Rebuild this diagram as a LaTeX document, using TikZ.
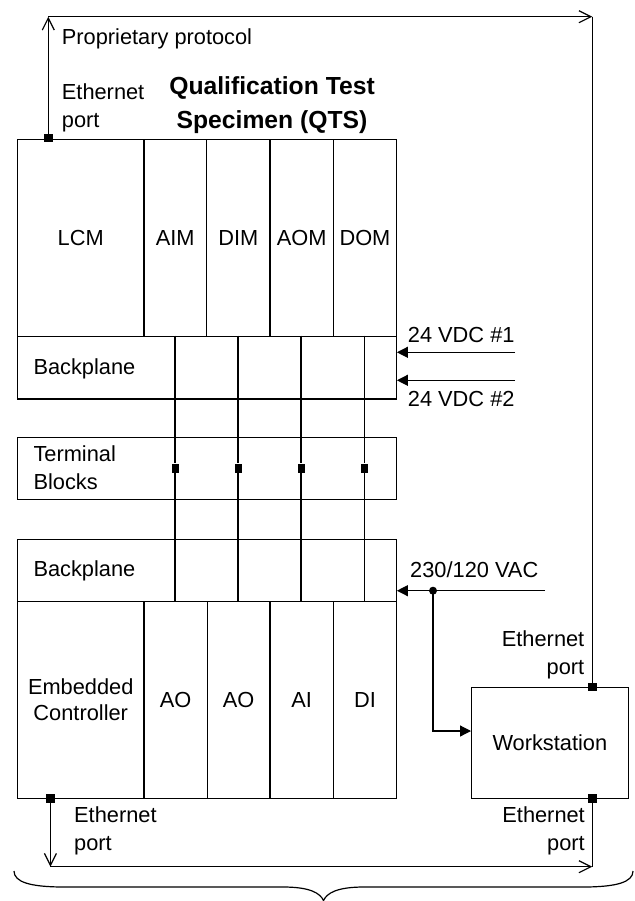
\documentclass[tikz,border=0pt]{standalone}
\usepackage{fontspec}
\setmainfont{Liberation Sans}
\usetikzlibrary{arrows.meta}
\newcommand{\lines}[2]{\begin{tabular}[t]{@{}#1@{}}#2\end{tabular}}
\begin{document}
\begin{tikzpicture}[x=1pt,y=-1pt,
  ln/.style={line width=1.2pt},
  box/.style={draw,line width=1.2pt,rectangle,inner sep=0pt,anchor=north west,
              font=\fontsize{21.8}{26}\selectfont},
  txt/.style={inner sep=0pt,font=\fontsize{21.8}{28}\selectfont},
  ttl/.style={inner sep=0pt,font=\bfseries\fontsize{24.7}{33.3}\selectfont},
  port/.style={fill=black,inner sep=0pt,minimum size=8.5pt},
  dotn/.style={circle,fill=black,inner sep=0pt,minimum size=8pt},
  openarr/.style={-{Straight Barb[length=12pt,width=12pt,line width=1.2pt]}},
  fillarr/.style={-{Triangle[length=11pt,width=11pt]}},
]
\useasboundingbox (0,0) rectangle (634,901);

% ---- QTS top module row
\node[box,minimum width=126.3pt,minimum height=196.4pt] (lcm) at (17,139.3) {LCM};
\node[box,minimum width=62.7pt,minimum height=196.4pt] (aim) at (143.3,139.3) {AIM};
\node[box,minimum width=63.3pt,minimum height=196.4pt] (dim) at (206,139.3) {DIM};
\node[box,minimum width=63.7pt,minimum height=196.4pt] (aom) at (269.3,139.3) {AOM};
\node[box,minimum width=62.7pt,minimum height=196.4pt] (dom) at (333,139.3) {DOM};

% ---- backplanes and terminal blocks
\node[box,minimum width=378.7pt,minimum height=62.6pt] (bp1) at (17,335.7) {};
\node[box,minimum width=378.7pt,minimum height=62.3pt] (tb) at (17,436.7) {};
\node[box,minimum width=378.7pt,minimum height=62pt] (bp2) at (17,539) {};
\node[txt,anchor=base west] (bp1t) at (33.3,374.3) {Backplane};
\node[txt,anchor=base west] (tbt) at (33.3,461.7) {\lines{l}{Terminal\\Blocks}};
\node[txt,anchor=base west] (bp2t) at (33.3,576.7) {Backplane};

% ---- embedded controller row
\node[box,minimum width=126.3pt,minimum height=196.5pt,align=center] (ec) at (17,601) {Embedded\\Controller};
\node[box,minimum width=63.4pt,minimum height=196.5pt] (ao1) at (143.3,601) {AO};
\node[box,minimum width=62.6pt,minimum height=196.5pt] (ao2) at (206.7,601) {AO};
\node[box,minimum width=63.7pt,minimum height=196.5pt] (ai) at (269.3,601) {AI};
\node[box,minimum width=62.7pt,minimum height=196.5pt] (di) at (333,601) {DI};

% ---- workstation
\node[box,minimum width=156.5pt,minimum height=111.3pt] (ws) at (471,686.7) {Workstation};

% ---- I/O wiring through backplanes and terminal blocks
\foreach \i/\x in {1/175,2/238,3/301,4/364.3}{
  \coordinate (vt\i) at (\x,335.7);
  \coordinate (vb\i) at (\x,601);
  \node[port,minimum width=7pt,minimum height=9pt] (sq\i) at (\x,468) {};
  \draw[ln] (vt\i) -- (sq\i) -- (vb\i);
}

% ---- power feeds
\coordinate (dc1) at (515,352.3);
\coordinate (dc2) at (515,380.3);
\draw[ln,fillarr] (dc1) -- (bp1.east |- dc1);
\draw[ln,fillarr] (dc2) -- (bp1.east |- dc2);
\node[txt,anchor=base west] (dc1t) at (407.7,342.7) {24 VDC \#1};
\node[txt,anchor=base west] (dc2t) at (407.7,406) {24 VDC \#2};

\coordinate (vac) at (545,590.7);
\coordinate (wsin) at (471,731);
\draw[ln,fillarr] (vac) -- (bp2.east |- vac);
\node[dotn] (junc) at (433,590.7) {};
\draw[ln,fillarr] (junc.center) |- (wsin);
\node[txt,anchor=base west] (vact) at (410,577.3) {230/120 VAC};

% ---- ethernet ports
\node[port] (lcmport) at (48.3,138) {};
\node[port] (ecport) at (50.4,798.5) {};
\node[port] (wsport1) at (592.3,687) {};
\node[port] (wsport2) at (592.3,798.5) {};
\coordinate (tl) at (48.3,16.7);
\coordinate (tr) at (592.3,16.7);
\coordinate (bl) at (50.4,866.7);
\coordinate (br) at (592.3,866.7);

\draw[ln,openarr] (lcmport) -- (tl);
\draw[ln,openarr] (tl) -- (tr);
\draw[ln] (tr) -- (wsport1);
\draw[ln,openarr] (ecport) -- (bl);
\draw[ln,openarr] (bl) -- (br);
\draw[ln] (wsport2) -- (br);

\node[txt,anchor=base west] (proto) at (61.7,45) {Proprietary protocol};
\node[txt,anchor=base west] (eth1) at (61.7,100) {\lines{l}{Ethernet\\port}};
\node[txt,anchor=base east] (eth2) at (584.5,646) {\lines{r}{Ethernet\\port}};
\node[txt,anchor=base west] (eth3) at (74,822.5) {\lines{l}{Ethernet\\port}};
\node[txt,anchor=base east] (eth4) at (585,822.5) {\lines{r}{Ethernet\\port}};

\node[ttl,anchor=base] (title) at (272,95) {\lines{c}{Qualification Test\\Specimen (QTS)}};

% ---- brace
\draw[ln] (14,871) .. controls (14,882) and (30,887) .. (64,887) -- (283,887)
  .. controls (310,887) and (320,893) .. (323.5,900.5)
  .. controls (327,893) and (337,887) .. (364,887) -- (583,887)
  .. controls (617,887) and (633,882) .. (633,871);
\end{tikzpicture}
\end{document}
